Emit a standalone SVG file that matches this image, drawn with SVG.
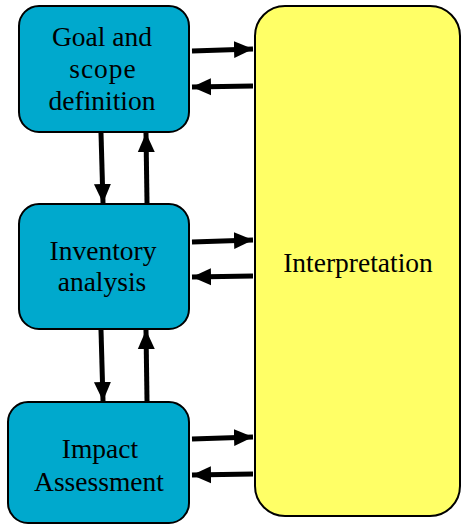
<svg xmlns="http://www.w3.org/2000/svg" width="461" height="526" viewBox="0 0 461 526">
<style>
.box{fill:#00A9CD;stroke:#000;stroke-width:2}
.interp{fill:#FFFF66;stroke:#000;stroke-width:2}
.t{font-family:"Liberation Serif","Times New Roman",serif;font-size:27.5px;fill:#000;text-anchor:middle}
.c{stroke:#000;stroke-width:5;fill:none;marker-end:url(#ah)}
</style>
<defs>
<marker id="ah" markerUnits="userSpaceOnUse" markerWidth="20" markerHeight="20" viewBox="0 0 20 20" refX="19" refY="10" orient="auto">
<path d="M0,1.5 L19,10 L0,18.5 Z" fill="#000"/>
</marker>
</defs>
<rect width="461" height="526" fill="#fff"/>
<g id="interpretation">
<rect class="interp" x="255" y="6" width="205" height="510" rx="30" ry="30"/>
<text class="t" x="358" y="272">Interpretation</text>
</g>
<g id="goal">
<rect class="box" x="19" y="6" width="170" height="126" rx="20" ry="20"/>
<text class="t" x="102" y="46">Goal and</text>
<text class="t" x="103" y="78" letter-spacing="1">scope</text>
<text class="t" x="102" y="110">definition</text>
</g>
<g id="inventory">
<rect class="box" x="19" y="204" width="170" height="125" rx="20" ry="20"/>
<text class="t" x="103" y="260">Inventory</text>
<text class="t" x="102" y="291">analysis</text>
</g>
<g id="impact">
<rect class="box" x="8" y="402" width="181" height="121" rx="20" ry="20"/>
<text class="t" x="100" y="458">Impact</text>
<text class="t" x="99" y="491">Assessment</text>
</g>
<g id="connectors">
<line class="c" x1="192" y1="51" x2="253" y2="49"/>
<line class="c" x1="253" y1="86" x2="192" y2="87"/>
<line class="c" x1="192" y1="242" x2="253" y2="240"/>
<line class="c" x1="253" y1="276" x2="192" y2="277"/>
<line class="c" x1="192" y1="439" x2="253" y2="437"/>
<line class="c" x1="253" y1="474" x2="192" y2="475"/>
<line class="c" x1="101" y1="133" x2="103" y2="203"/>
<line class="c" x1="147" y1="203" x2="146" y2="133"/>
<line class="c" x1="101" y1="330" x2="103" y2="401"/>
<line class="c" x1="147" y1="401" x2="146" y2="330"/>
</g>
</svg>
